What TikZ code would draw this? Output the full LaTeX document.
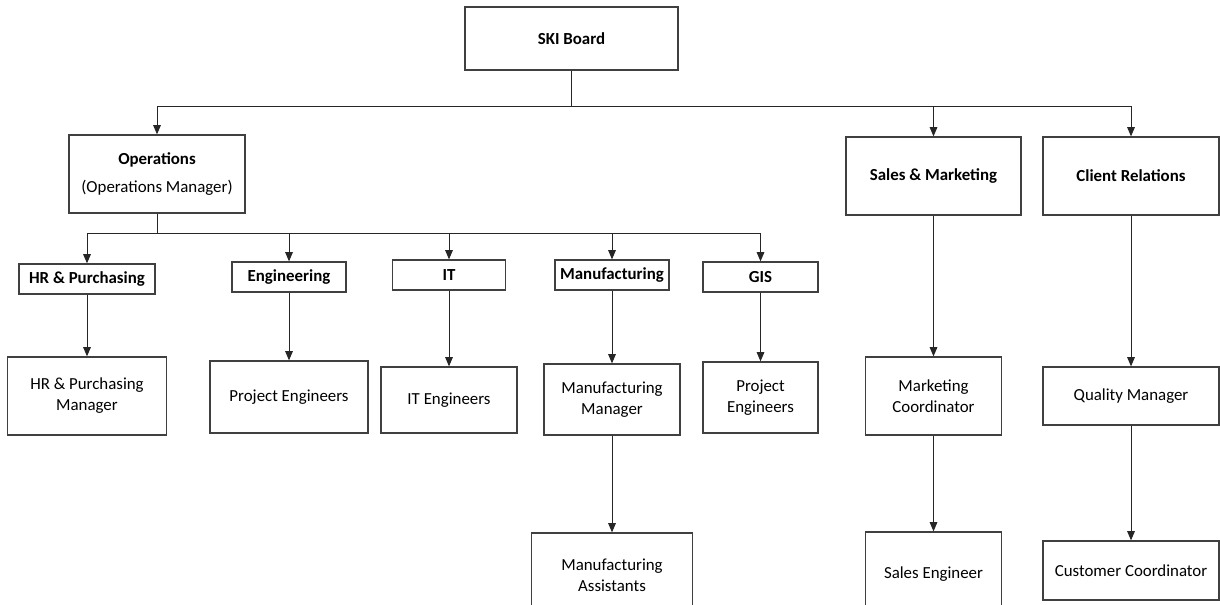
\documentclass[tikz,border=0pt]{standalone}
\usepackage{fontspec}
\setmainfont{Carlito}
\usepackage{tikz}
\usetikzlibrary{arrows.meta}

\begin{document}
\begin{tikzpicture}[x=0.025cm, y=-0.025cm,
    unit/.style={draw=black!75, line width=0.9pt, align=center, inner sep=0pt,
        font=\fontsize{12}{14.5}\selectfont\bfseries},
    post/.style={unit, font=\fontsize{12}{15}\selectfont},
    link/.style={draw=black!85, line width=0.7pt},
    arr/.style={link, -{Triangle[width=0.19cm,length=0.23cm]}}]
		%%%%% START %%%%%
		
		\clip (0,0) rectangle (1220,604);
		
		% top level
		\node[unit, minimum width=5.325cm, minimum height=1.575cm] (board) at (571.5, 38.5) {SKI Board};
		\node[unit, minimum width=4.4cm, minimum height=1.95cm] (ops) at (157, 174) {Operations\\[6pt]\mdseries (Operations Manager)};
		\node[unit, minimum width=4.375cm, minimum height=1.95cm] (sales) at (933.5, 176) {Sales \& Marketing};
		\node[unit, minimum width=4.4cm, minimum height=1.95cm] (client) at (1131, 176) {Client Relations};
		
		% departments
		\node[unit, minimum width=3.4cm, minimum height=0.75cm] (hr) at (87, 279) {HR \& Purchasing};
		\node[unit, minimum width=2.85cm, minimum height=0.75cm] (eng) at (289, 277) {Engineering};
		\node[unit, minimum width=2.825cm, minimum height=0.75cm] (it) at (449, 275) {IT};
		\node[unit, minimum width=2.85cm, minimum height=0.75cm] (manu) at (612, 275) {Manufacturing};
		\node[unit, minimum width=2.875cm, minimum height=0.75cm] (gis) at (760.5, 277) {GIS};
		
		% staff
		\node[post, minimum width=3.975cm, minimum height=1.95cm] (hrman) at (87, 396) {HR \& Purchasing\\Manager};
		\node[post, minimum width=3.95cm, minimum height=1.8cm] (projeng) at (289, 397) {Project Engineers};
		\node[post, minimum width=3.4cm, minimum height=1.65cm] (iteng) at (449, 400) {IT Engineers};
		\node[post, minimum width=3.4cm, minimum height=1.775cm] (manman) at (612, 399.5) {Manufacturing\\Manager};
		\node[post, minimum width=4.04cm, minimum height=2.1cm] (manass) at (612, 575) {Manufacturing\\Assistants};
		\node[post, minimum width=2.875cm, minimum height=1.775cm] (gisproj) at (760.5, 397.5) {Project\\Engineers};
		\node[post, minimum width=3.4cm, minimum height=1.95cm] (mktcoord) at (933.5, 396) {Marketing\\Coordinator};
		\node[post, minimum width=3.4cm, minimum height=2.1cm] (saleseng) at (933.5, 574) {Sales Engineer};
		\node[post, minimum width=4.4cm, minimum height=1.45cm] (quality) at (1131, 396) {Quality Manager};
		\node[post, minimum width=4.4cm, minimum height=1.475cm] (customer) at (1131, 570.5) {Customer Coordinator};
		
		% board bus
		\coordinate (topbus) at (571.5, 106);
		\draw[link] (board) -- (topbus);
		\draw[arr] (topbus) -| (ops.north);
		\draw[arr] (topbus) -| (sales.north);
		\draw[arr] (topbus) -| (client.north);
		
		% operations bus
		\coordinate (opsbus) at (157, 233);
		\draw[link] (ops) -- (opsbus);
		\draw[arr] (opsbus) -| (hr.north);
		\draw[arr] (opsbus) -| (eng.north);
		\draw[arr] (opsbus) -| (it.north);
		\draw[arr] (opsbus) -| (manu.north);
		\draw[arr] (opsbus) -| (gis.north);
		
		% down the columns
		\draw[arr] (hr) -- (hrman);
		\draw[arr] (eng) -- (projeng);
		\draw[arr] (it) -- (iteng);
		\draw[arr] (manu) -- (manman);
		\draw[arr] (manman) -- (manass);
		\draw[arr] (gis) -- (gisproj);
		\draw[arr] (sales) -- (mktcoord);
		\draw[arr] (mktcoord) -- (saleseng);
		\draw[arr] (client) -- (quality);
		\draw[arr] (quality) -- (customer);
		
		%%%%% END %%%%%
	\end{tikzpicture}
\end{document}
